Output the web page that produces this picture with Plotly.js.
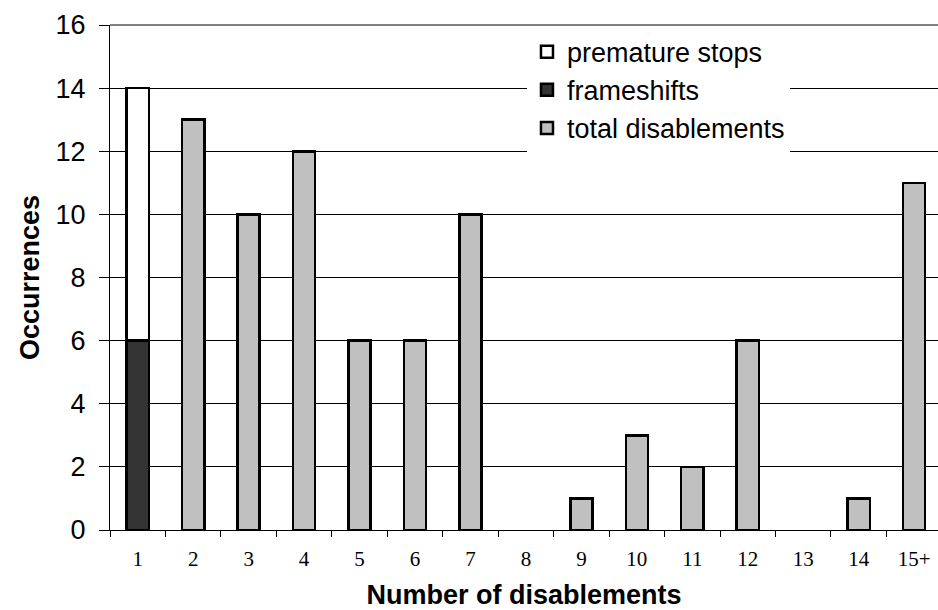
<!DOCTYPE html>
<html>
<head>
<meta charset="utf-8">
<script src="https://cdn.plot.ly/plotly-3.0.1.min.js"></script>
<style>
html,body{margin:0;padding:0;background:#fff;}
#chart{width:938px;height:610px;}
</style>
</head>
<body>
<div id="chart"></div>
<script>
// Data
const categories = ['1','2','3','4','5','6','7','8','9','10','11','12','13','14','15+'];
const stackCategories = ['1'];
const frameshifts = [6];
const prematureStops = [8];
const totalCategories = ['2','3','4','5','6','7','8','9','10','11','12','13','14','15+'];
const totalDisablements = [13,10,12,6,6,10,0,1,3,2,6,0,1,11];
const yTicks = [0,2,4,6,8,10,12,14,16];

const SANS = '"Liberation Sans", Arial, sans-serif';
const SERIF = '"Liberation Serif", "Times New Roman", serif';

const barLine = {color:'#000000', width:2.5};

const traces = [
  {
    type:'bar', name:'frameshifts', x:stackCategories, y:frameshifts,
    marker:{color:'#333333', line:barLine}, legendrank:2
  },
  {
    type:'bar', name:'premature stops', x:stackCategories, y:prematureStops,
    marker:{color:'#ffffff', line:barLine}, legendrank:1
  },
  {
    type:'bar', name:'total disablements', x:totalCategories,
    y:totalDisablements.map(v => v === 0 ? null : v),
    marker:{color:'#c0c0c0', line:barLine}, legendrank:3
  }
];

const layout = {
  width:938, height:610,
  margin:{l:110, r:0, t:25, b:80},
  paper_bgcolor:'#ffffff', plot_bgcolor:'#ffffff',
  barmode:'stack', bargap:0.6,
  showlegend:true,
  legend:{
    x:0.5036, xanchor:'left', y:0.871, yanchor:'middle',
    bgcolor:'#ffffff', borderwidth:0, traceorder:'normal',
    font:{family:SANS, size:27, color:'#000'}
  },
  xaxis:{
    type:'category', categoryorder:'array', categoryarray:categories,
    range:[-0.5, 14.43],
    tickson:'boundaries', ticks:'outside', ticklen:6, tickwidth:1, tickcolor:'#000',
    showgrid:false, showline:true, linecolor:'#000', linewidth:1,
    tickfont:{family:SERIF, size:21, color:'#000'},
    ticklabelstandoff:10,
    title:{text:'Number of disablements', font:{family:SANS, size:27, color:'#000', weight:'bold'}, standoff:14},
    zeroline:false, fixedrange:true
  },
  yaxis:{
    range:[0,16], tickvals:yTicks, ticktext:yTicks.map(String),
    ticks:'outside', ticklen:10, tickwidth:1, tickcolor:'#000',
    showgrid:true, gridcolor:'#000', gridwidth:1,
    showline:true, linecolor:'#000', linewidth:1,
    zeroline:false,
    tickfont:{family:SANS, size:27, color:'#000'},
    ticklabelstandoff:8,
    title:{text:'Occurrences', font:{family:SANS, size:27, color:'#000', weight:'bold'}, standoff:8},
    fixedrange:true
  },
  shapes:[
    {type:'line', xref:'paper', yref:'paper', x0:0, x1:1, y0:1, y1:1,
     line:{color:'#808080', width:2}, layer:'above'}
  ]
};

Plotly.newPlot('chart', traces, layout, {displayModeBar:false, staticPlot:true});
</script>
</body>
</html>
